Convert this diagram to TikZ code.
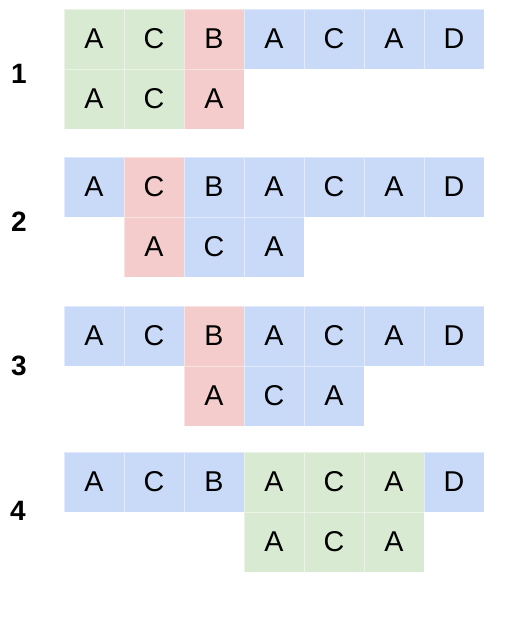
\documentclass[tikz,border=0pt]{standalone}
\usepackage{fontspec}
\setmainfont{Liberation Sans}
\usetikzlibrary{positioning}
\definecolor{matchgreen}{HTML}{D9EAD3}
\definecolor{missred}{HTML}{F4CCCC}
\definecolor{plainblue}{HTML}{C9DAF8}
\tikzset{
  cell/.style={minimum width=45pt, minimum height=45pt, inner sep=0pt, outer sep=0pt,
    draw=white, draw opacity=0.45, line width=0.6pt, font=\fontsize{21.5}{24}\selectfont},
  gcell/.style={cell, fill=matchgreen},
  rcell/.style={cell, fill=missred},
  bcell/.style={cell, fill=plainblue},
  steplabel/.style={font=\fontsize{21}{24}\selectfont\bfseries}
}

\begin{document}
\begin{tikzpicture}[x=0.75pt, y=-0.75pt]
  \useasboundingbox (0,0) rectangle (520,623);
  % step 1
  \node[steplabel] (n1) at (19,74) {1};
  \foreach \ch/\st [count=\c from 0] in {A/gcell, C/gcell, B/rcell, A/bcell, C/bcell, A/bcell, D/bcell}
    \node[\st] (s1t\c) at ({94+60*\c},39) {\ch};
  \foreach \ch/\st [count=\c from 0] in {A/gcell, C/gcell, A/rcell}
    \node[\st] (s1b\c) at ({94+60*\c},99) {\ch};
  %
  % step 2
  \node[steplabel] (n2) at (19,222) {2};
  \foreach \ch/\st [count=\c from 0] in {A/bcell, C/rcell, B/bcell, A/bcell, C/bcell, A/bcell, D/bcell}
    \node[\st] (s2t\c) at ({94+60*\c},187) {\ch};
  \foreach \ch/\st [count=\c from 1] in {A/rcell, C/bcell, A/bcell}
    \node[\st] (s2b\c) at ({94+60*\c},247) {\ch};
  %
  % step 3
  \node[steplabel] (n3) at (19,366) {3};
  \foreach \ch/\st [count=\c from 0] in {A/bcell, C/bcell, B/rcell, A/bcell, C/bcell, A/bcell, D/bcell}
    \node[\st] (s3t\c) at ({94+60*\c},336) {\ch};
  \foreach \ch/\st [count=\c from 2] in {A/rcell, C/bcell, A/bcell}
    \node[\st] (s3b\c) at ({94+60*\c},396) {\ch};
  %
  % step 4
  \node[steplabel] (n4) at (18,511) {4};
  \foreach \ch/\st [count=\c from 0] in {A/bcell, C/bcell, B/bcell, A/gcell, C/gcell, A/gcell, D/bcell}
    \node[\st] (s4t\c) at ({94+60*\c},482) {\ch};
  \foreach \ch/\st [count=\c from 3] in {A/gcell, C/gcell, A/gcell}
    \node[\st] (s4b\c) at ({94+60*\c},542) {\ch};
\end{tikzpicture}
\end{document}
